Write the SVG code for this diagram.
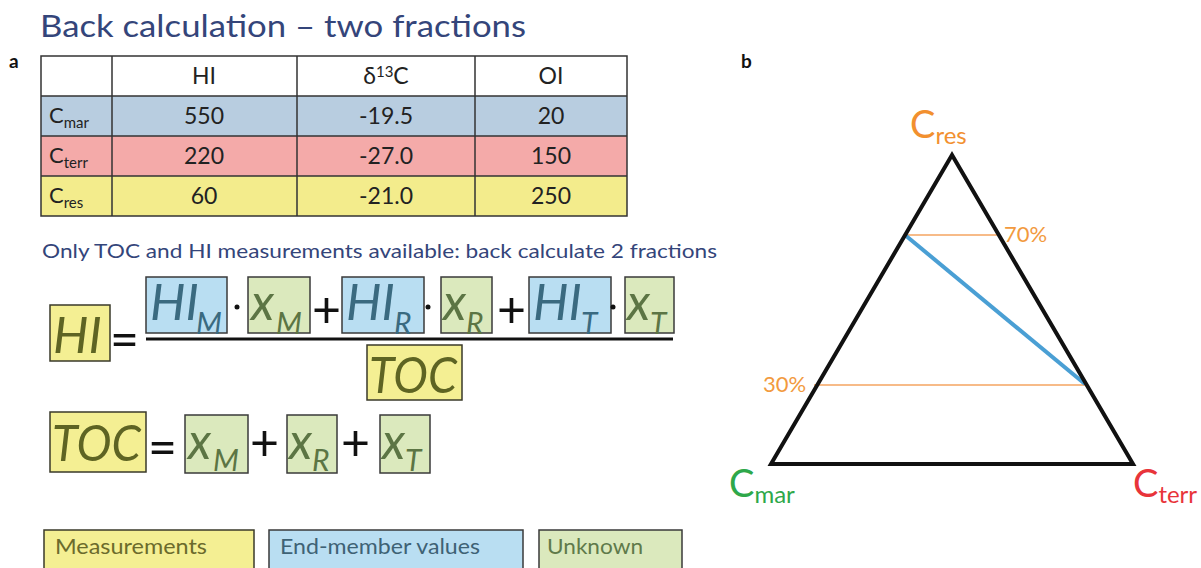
<svg xmlns="http://www.w3.org/2000/svg" width="1201" height="568" viewBox="0 0 1201 568">
<style>
.t{font-family:Lato,"Open Sans","Liberation Sans",sans-serif}
.title{font-size:31px;fill:#34457a}
.lbl{font-size:19px;font-weight:bold;fill:#111}
.cell{font-size:23px;fill:#222;text-anchor:middle}
.rl{font-size:22px;fill:#222}
.sub{font-size:15px}
.eq{font-size:50px;font-style:italic}
.es{font-size:30px;font-style:italic}
.op{font-size:50px;fill:#111}
.bY{fill:#f4ef93;stroke:#3a3a2a;stroke-width:1.5}
.bB{fill:#b9def2;stroke:#3a3a3a;stroke-width:1.5}
.bG{fill:#dbe9bd;stroke:#3a3a3a;stroke-width:1.5}
.tY{fill:#5e6423}
.tB{fill:#3a6a80}
.tG{fill:#5c7544}
.grid{stroke:#333;stroke-width:1.5;fill:none}
.pct{font-size:22px;fill:#f29a3e}
.leg{font-size:21px}
</style>
<rect width="1201" height="568" fill="#ffffff"/>
<text class="t title" x="40" y="37" textLength="486" lengthAdjust="spacingAndGlyphs">Back calculation – two fractions</text>
<text class="t lbl" x="9" y="68">a</text>
<text class="t lbl" x="741" y="68">b</text>

<g id="table">
<rect x="41" y="56" width="586" height="40" fill="#ffffff"/>
<rect x="41" y="96" width="586" height="40" fill="#b8cde0"/>
<rect x="41" y="136" width="586" height="40" fill="#f4aaa9"/>
<rect x="41" y="176" width="586" height="40" fill="#f3ec8c"/>
<rect class="grid" x="41" y="56" width="586" height="160"/>
<path class="grid" d="M41 96H627M41 136H627M41 176H627M112 56V216M297 56V216M475 56V216"/>
<text class="t cell" x="204" y="84">HI</text>
<text class="t cell" x="386" y="84">δ<tspan class="sub" dy="-7">13</tspan><tspan dy="7">C</tspan></text>
<text class="t cell" x="551" y="84">OI</text>
<text class="t rl" x="49" y="123">C<tspan class="sub" dy="5">mar</tspan></text>
<text class="t rl" x="49" y="163">C<tspan class="sub" dy="5">terr</tspan></text>
<text class="t rl" x="49" y="203">C<tspan class="sub" dy="5">res</tspan></text>
<text class="t cell" x="204" y="124">550</text>
<text class="t cell" x="386" y="124">-19.5</text>
<text class="t cell" x="551" y="124">20</text>
<text class="t cell" x="204" y="164">220</text>
<text class="t cell" x="386" y="164">-27.0</text>
<text class="t cell" x="551" y="164">150</text>
<text class="t cell" x="204" y="204">60</text>
<text class="t cell" x="386" y="204">-21.0</text>
<text class="t cell" x="551" y="204">250</text>
</g>

<text class="t" x="42" y="258" font-size="19" fill="#34457a" textLength="675" lengthAdjust="spacingAndGlyphs">Only TOC and HI measurements available: back calculate 2 fractions</text>

<g id="eq1">
<rect class="bY" x="50" y="305" width="60" height="56"/>
<text class="t eq tY" x="53" y="353">HI</text>
<text class="t op" x="110" y="357" font-size="56">=</text>
<line x1="146" y1="339" x2="673" y2="339" stroke="#111" stroke-width="3"/>
<rect class="bB" x="146" y="277" width="81" height="56"/>
<text class="t eq tB" x="150" y="320">HI</text>
<text class="t es tB" x="196" y="334">M</text>
<circle cx="237" cy="307" r="2.5" fill="#111"/>
<rect class="bG" x="248" y="277" width="62" height="56"/>
<text class="t eq tG" x="251" y="320">x</text>
<text class="t es tG" x="276" y="334">M</text>
<text class="t op" x="312" y="327" font-size="54">+</text>
<rect class="bB" x="342" y="277" width="82" height="56"/>
<text class="t eq tB" x="346" y="320">HI</text>
<text class="t es tB" x="394" y="334">R</text>
<circle cx="428" cy="307" r="2.5" fill="#111"/>
<rect class="bG" x="441" y="277" width="51" height="56"/>
<text class="t eq tG" x="443" y="320">x</text>
<text class="t es tG" x="466" y="334">R</text>
<text class="t op" x="497" y="327" font-size="54">+</text>
<rect class="bB" x="529" y="277" width="82" height="56"/>
<text class="t eq tB" x="533" y="320">HI</text>
<text class="t es tB" x="581" y="334">T</text>
<circle cx="613" cy="307" r="2.5" fill="#111"/>
<rect class="bG" x="625" y="277" width="49" height="56"/>
<text class="t eq tG" x="627" y="320">x</text>
<text class="t es tG" x="650" y="334">T</text>
<rect class="bY" x="367" y="345" width="95" height="55"/>
<text class="t eq tY" x="369" y="393" textLength="88" lengthAdjust="spacingAndGlyphs">TOC</text>
</g>

<g id="eq2">
<rect class="bY" x="50" y="412" width="96" height="60"/>
<text class="t eq tY" x="52" y="461" textLength="89" lengthAdjust="spacingAndGlyphs">TOC</text>
<text class="t op" x="148" y="465" font-size="54">=</text>
<rect class="bG" x="185" y="415" width="63" height="58"/>
<text class="t eq tG" x="188" y="459">x</text>
<text class="t es tG" x="213" y="471">M</text>
<text class="t op" x="250" y="460" font-size="54">+</text>
<rect class="bG" x="287" y="415" width="50" height="58"/>
<text class="t eq tG" x="289" y="459">x</text>
<text class="t es tG" x="312" y="471">R</text>
<text class="t op" x="341" y="460" font-size="54">+</text>
<rect class="bG" x="380" y="415" width="50" height="58"/>
<text class="t eq tG" x="382" y="459">x</text>
<text class="t es tG" x="405" y="471">T</text>
</g>

<g id="legend">
<rect class="bY" x="44" y="530" width="210" height="45"/>
<text class="t leg" x="55" y="554" fill="#6b6b2c" textLength="152" lengthAdjust="spacingAndGlyphs">Measurements</text>
<rect class="bB" x="269" y="530" width="254" height="45"/>
<text class="t leg" x="280" y="554" fill="#3e6275" textLength="200" lengthAdjust="spacingAndGlyphs">End-member values</text>
<rect class="bG" x="539" y="530" width="143" height="45"/>
<text class="t leg" x="547" y="554" fill="#5f7a4a" textLength="96" lengthAdjust="spacingAndGlyphs">Unknown</text>
</g>

<g id="ternary">
<line x1="905" y1="235" x2="997" y2="235" stroke="#f4a561" stroke-width="1.5"/>
<line x1="814" y1="385" x2="1086" y2="385" stroke="#f4a561" stroke-width="1.5"/>
<line x1="905" y1="235" x2="1085" y2="384" stroke="#4a9fd4" stroke-width="4"/>
<polygon points="952,155 771,464 1133,464" fill="none" stroke="#111" stroke-width="4" stroke-linejoin="miter"/>
<text class="t pct" x="1004" y="242">70%</text>
<text class="t pct" x="763" y="392">30%</text>
<text class="t" x="910" y="138" font-size="38" fill="#f2902f">C<tspan font-size="24" dy="6">res</tspan></text>
<text class="t" x="729" y="497" font-size="38" fill="#2ea84a">C<tspan font-size="24" dy="6">mar</tspan></text>
<text class="t" x="1133" y="497" font-size="38" fill="#e8343a">C<tspan font-size="24" dy="6">terr</tspan></text>
</g>
</svg>
